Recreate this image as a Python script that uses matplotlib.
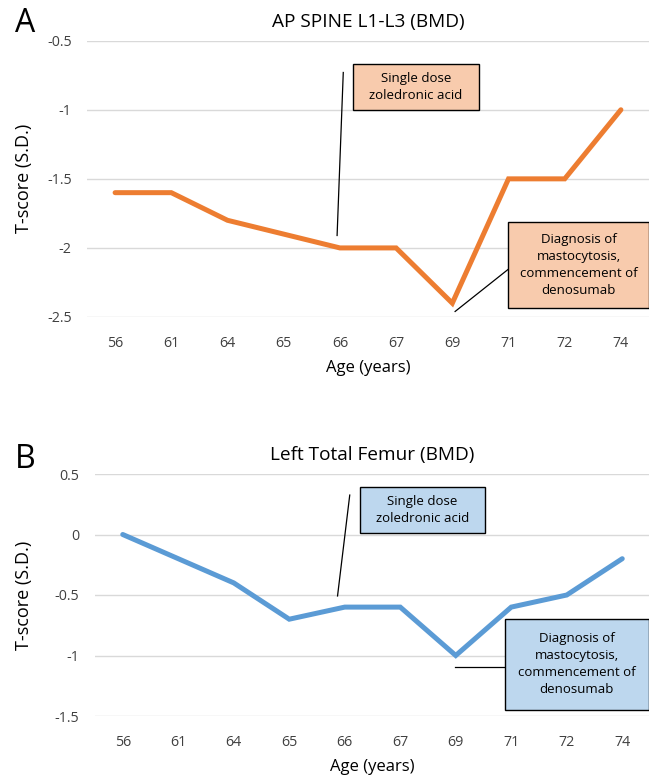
import matplotlib.pyplot as plt
from matplotlib.patches import Rectangle

plt.rcParams['font.family'] = ['Open Sans', 'DejaVu Sans']

# data
ages = ["56", "61", "64", "65", "66", "67", "69", "71", "72", "74"]
spine_t = [-1.6, -1.6, -1.8, -1.9, -2.0, -2.0, -2.4, -1.5, -1.5, -1.0]
femur_t = [0.0, -0.2, -0.4, -0.7, -0.6, -0.6, -1.0, -0.6, -0.5, -0.2]

spine_ticks = [-0.5, -1, -1.5, -2, -2.5]
spine_ticklabels = ["-0.5", "-1", "-1.5", "-2", "-2.5"]
femur_ticks = [0.5, 0, -0.5, -1, -1.5]
femur_ticklabels = ["0.5", "0", "-0.5", "-1", "-1.5"]

note_zol = "Single dose\nzoledronic acid"
note_dx = "Diagnosis of\nmastocytosis,\ncommencement of\ndenosumab"

fig = plt.figure(figsize=(6.49, 7.82), dpi=100)
W, H = 649, 782


def make_ax(left, top, bottom, right=649):
    return fig.add_axes([left / W, 1 - bottom / H, (right - left) / W, (bottom - top) / H])


def style(ax, title, ylim, ticks, labels, ypad):
    x = range(len(ages))
    ax.set_xlim(-0.5, len(ages) - 0.5)
    ax.set_ylim(*ylim)
    ax.set_xticks(list(x))
    ax.set_xticklabels(ages)
    ax.set_yticks(ticks)
    ax.set_yticklabels(labels)
    ax.tick_params(length=0, labelsize=10.3, colors='#404040')
    ax.tick_params(axis='x', pad=14)
    ax.tick_params(axis='y', pad=ypad)
    for s in ax.spines.values():
        s.set_visible(False)
    ax.grid(axis='y', color='#d9d9d9', linewidth=1)
    ax.set_axisbelow(True)
    ax.set_title(title, fontsize=13.7, pad=10)
    ax.set_xlabel("Age (years)", fontsize=12, labelpad=6)
    ax.set_ylabel("T-score (S.D.)", fontsize=13)
    # y label at a fixed x in figure pixels, centred on the axes
    bb = ax.get_position()
    ax.yaxis.set_label_coords(33 / W, (bb.y0 + bb.y1) / 2, transform=fig.transFigure)


def box(ax, x0, x1, y0, y1, color, text):
    ax.add_patch(Rectangle((x0, y0), x1 - x0, y1 - y0, facecolor=color,
                           edgecolor='black', linewidth=1, clip_on=False, zorder=5))
    ax.text((x0 + x1) / 2, (y0 + y1) / 2, text, ha='center', va='center',
            fontsize=9.5, linespacing=1.4, zorder=6, clip_on=False)


# --- panel A ---
axA = make_ax(87, 40.7, 317)
style(axA, "AP SPINE L1-L3 (BMD)", (-2.5, -0.5), spine_ticks, spine_ticklabels, 11)
axA.plot(range(len(ages)), spine_t, color='#ED7D31', linewidth=3.6,
         solid_joinstyle='miter', solid_capstyle='round')
axA.plot([4.06, 3.95], [-0.73, -1.91], color='black', linewidth=0.9)
box(axA, 4.23, 6.48, -1.0, -0.667, '#F8CBAD', note_zol)
axA.plot([7.01, 6.05], [-2.15, -2.46], color='black', linewidth=0.9, clip_on=False)
box(axA, 6.99, 9.50, -2.435, -1.812, '#F8CBAD', note_dx)
fig.text(25 / W, 1 - 23.5 / H, "A", fontsize=23, ha='center', va='center')

# --- panel B ---
axB = make_ax(95, 474, 716, 650)
style(axB, "Left Total Femur (BMD)", (-1.5, 0.5), femur_ticks, femur_ticklabels, 11.5)
axB.plot(range(len(ages)), femur_t, color='#5B9BD5', linewidth=3.6,
         solid_joinstyle='miter', solid_capstyle='round')
axB.plot([4.09, 3.87], [0.326, -0.508], color='black', linewidth=0.9)
box(axB, 4.27, 6.52, 0.012, 0.393, '#BDD7EE', note_zol)
axB.plot([5.98, 6.88], [-1.095, -1.095], color='black', linewidth=0.9)
box(axB, 6.88, 9.48, -1.45, -0.698, '#BDD7EE', note_dx)
fig.text(25 / W, 1 - 460 / H, "B", fontsize=23, ha='center', va='center')

fig.savefig("out.png", dpi=100)
